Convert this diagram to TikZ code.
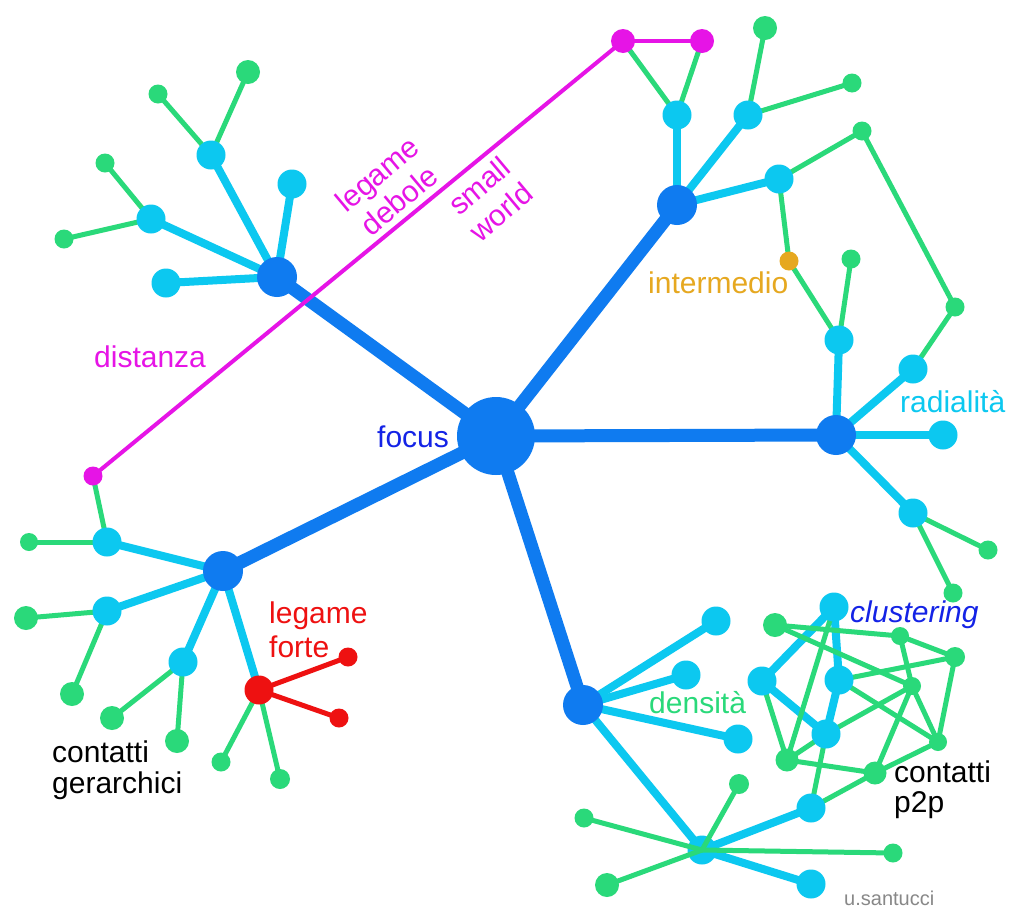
\documentclass[tikz,border=0pt]{standalone}
\usepackage{fontspec}
\setmainfont{Liberation Sans}
\pgfdeclarelayer{bg}
\pgfdeclarelayer{edges}
\pgfdeclarelayer{top}
\pgfsetlayers{bg,edges,main,top}
\definecolor{dblue}{RGB}{15,123,240}
\definecolor{lblue}{RGB}{12,200,240}
\definecolor{cgreen}{RGB}{42,217,122}
\definecolor{cmag}{RGB}{230,20,230}
\definecolor{cred}{RGB}{238,17,17}
\definecolor{corange}{RGB}{230,168,32}
\definecolor{tblue}{RGB}{20,35,230}
\definecolor{tgray}{RGB}{136,136,136}
\tikzset{
  fnode/.style={circle,fill=dblue,inner sep=0pt,minimum size=78pt},
  hubnode/.style={circle,fill=dblue,inner sep=0pt,minimum size=40pt},
  lbnode/.style={circle,fill=lblue,inner sep=0pt,minimum size=29pt},
  gnode/.style={circle,fill=cgreen,inner sep=0pt,minimum size=#1},
  gnode/.default=19pt,
  mnode/.style={circle,fill=cmag,inner sep=0pt,minimum size=#1},
  mnode/.default=24pt,
  rnode/.style={circle,fill=cred,inner sep=0pt,minimum size=#1},
  rnode/.default=19pt,
  onode/.style={circle,fill=corange,inner sep=0pt,minimum size=19pt},
  thickedge/.style={line width=13pt,dblue},
  lbedge/.style={line width=8pt,lblue},
  gedge/.style={line width=5pt,cgreen},
  medge/.style={line width=4pt,cmag},
  redge/.style={line width=5pt,cred},
  lbl/.style={inner sep=0pt,anchor=base west,font=\fontsize{30}{34}\selectfont},
  rlbl/.style={inner sep=0pt,align=center,rotate=40,font=\fontsize{30}{34}\selectfont,text=cmag},
}
\begin{document}
\begin{tikzpicture}[x=1pt,y=-1pt]
\useasboundingbox (0,0) rectangle (1024,919);
\begin{pgfonlayer}{bg}
\fill[white] (0,0) rectangle (1024,919);
\end{pgfonlayer}

% focus and hubs
\node[fnode] (F) at (496,436) {};
\node[hubnode] (hNW) at (277,277) {};
\node[hubnode] (hNE) at (677,205) {};
\node[hubnode] (hE) at (836,435) {};
\node[hubnode] (hS) at (583,705) {};
\node[hubnode] (hSW) at (223,571) {};

% NW branch
\node[lbnode] (nw1) at (211,155) {};
\node[lbnode] (nw2) at (292,184) {};
\node[lbnode] (nw3) at (151,219) {};
\node[lbnode] (nw4) at (166,283) {};
\node[gnode=24pt] (nw1a) at (248,72) {};
\node[gnode] (nw1b) at (158,94) {};
\node[gnode] (nw3a) at (105,163) {};
\node[gnode] (nw3b) at (64,239) {};

% NE branch
\node[mnode] (m1) at (623,41) {};
\node[mnode] (m2) at (702,41) {};
\node[lbnode] (ne1) at (677,115) {};
\node[lbnode] (ne2) at (748,115) {};
\node[lbnode] (ne3) at (779,179) {};
\node[gnode=24pt] (ne2a) at (765,28) {};
\node[gnode] (ne2b) at (852,83) {};
\node[gnode] (ne3a) at (862,131) {};
\node[onode] (o) at (789,261) {};

% E branch
\node[lbnode] (e1) at (839,340) {};
\node[lbnode] (e2) at (913,369) {};
\node[lbnode] (e3) at (943,435) {};
\node[lbnode] (e4) at (913,513) {};
\node[gnode] (e1a) at (851,259) {};
\node[gnode] (e2a) at (955,307) {};
\node[gnode] (e4a) at (988,550) {};
\node[gnode] (e4b) at (953,593) {};

% SW branch
\node[mnode=19pt] (m3) at (93,476) {};
\node[lbnode] (sw1) at (107,542) {};
\node[lbnode] (sw2) at (107,611) {};
\node[lbnode] (sw3) at (183,662) {};
\node[gnode=18pt] (sw1a) at (29,542) {};
\node[gnode=24pt] (sw2a) at (26,618) {};
\node[gnode=24pt] (sw2b) at (72,694) {};
\node[gnode=24pt] (sw3a) at (112,718) {};
\node[gnode=24pt] (sw3b) at (177,741) {};
\node[rnode=29pt] (R) at (259,690) {};
\node[rnode] (r1) at (348,657) {};
\node[rnode] (r2) at (339,718) {};
\node[gnode] (Ra) at (221,762) {};
\node[gnode=20pt] (Rb) at (280,779) {};

% S branch
\node[lbnode] (s1) at (716,621) {};
\node[lbnode] (s2) at (686,675) {};
\node[lbnode] (s3) at (738,739) {};
\node[lbnode] (H) at (702,850) {};
\node[lbnode] (s4) at (811,884) {};
\node[lbnode] (E) at (811,808) {};
\node[gnode=20pt] (Ha) at (739,784) {};
\node[gnode] (Hb) at (584,818) {};
\node[gnode=24pt] (Hc) at (607,885) {};
\node[gnode] (Hd) at (893,853) {};

% cluster
\node[lbnode] (A) at (834,607) {};
\node[lbnode] (B) at (762,681) {};
\node[lbnode] (C) at (839,680) {};
\node[lbnode] (D) at (826,734) {};
\node[gnode=24pt] (g1) at (775,625) {};
\node[gnode=18pt] (g2) at (900,636) {};
\node[gnode=20pt] (g3) at (955,657) {};
\node[gnode=18pt] (g4) at (912,686) {};
\node[gnode=18pt] (g5) at (938,742) {};
\node[gnode=23pt] (g6) at (787,760) {};
\node[gnode=23pt] (g7) at (875,773) {};

\begin{pgfonlayer}{edges}
% thick focus edges
\foreach \h in {hNW,hNE,hE,hS,hSW} \draw[thickedge] (F.center) -- (\h.center);
% NW
\foreach \n in {nw1,nw2,nw3,nw4} \draw[lbedge] (hNW.center) -- (\n.center);
\draw[gedge] (nw1.center) -- (nw1a.center);
\draw[gedge] (nw1.center) -- (nw1b.center);
\draw[gedge] (nw3.center) -- (nw3a.center);
\draw[gedge] (nw3.center) -- (nw3b.center);
% NE
\foreach \n in {ne1,ne2,ne3} \draw[lbedge] (hNE.center) -- (\n.center);
\draw[gedge] (ne1.center) -- (m1.center);
\draw[gedge] (ne1.center) -- (m2.center);
\draw[medge] (m1.center) -- (m2.center);
\draw[gedge] (ne2.center) -- (ne2a.center);
\draw[gedge] (ne2.center) -- (ne2b.center);
\draw[gedge] (ne3.center) -- (ne3a.center);
\draw[gedge] (ne3a.center) -- (e2a.center);
\draw[gedge] (e2a.center) -- (e2.center);
\draw[gedge] (ne3.center) -- (o.center);
\draw[gedge] (o.center) -- (e1.center);
\draw[gedge] (e1a.center) -- (e1.center);
% E
\foreach \n in {e1,e2,e3,e4} \draw[lbedge] (hE.center) -- (\n.center);
\draw[gedge] (e4.center) -- (e4a.center);
\draw[gedge] (e4.center) -- (e4b.center);
% SW
\foreach \n in {sw1,sw2,sw3,R} \draw[lbedge] (hSW.center) -- (\n.center);
\draw[gedge] (m3.center) -- (sw1.center);
\draw[gedge] (sw1.center) -- (sw1a.center);
\draw[gedge] (sw2.center) -- (sw2a.center);
\draw[gedge] (sw2.center) -- (sw2b.center);
\draw[gedge] (sw3.center) -- (sw3a.center);
\draw[gedge] (sw3.center) -- (sw3b.center);
\draw[redge] (R.center) -- (r1.center);
\draw[redge] (R.center) -- (r2.center);
\draw[gedge] (R.center) -- (Ra.center);
\draw[gedge] (R.center) -- (Rb.center);
% S
\foreach \n in {s1,s2,s3,H} \draw[lbedge] (hS.center) -- (\n.center);
\draw[lbedge] (H.center) -- (s4.center);
\draw[lbedge] (H.center) -- (E.center);
% cluster
\draw[lbedge] (A.center) -- (B.center);
\draw[lbedge] (A.center) -- (C.center);
\draw[lbedge] (B.center) -- (D.center);
\draw[lbedge] (C.center) -- (D.center);
\draw[gedge] (A.center) -- (g6.center);
\draw[gedge] (g1.center) -- (g2.center);
\draw[gedge] (g1.center) -- (g4.center);
\draw[gedge] (g2.center) -- (g3.center);
\draw[gedge] (g2.center) -- (g4.center);
\draw[gedge] (g3.center) -- (C.center);
\draw[gedge] (g3.center) -- (g5.center);
\draw[gedge] (C.center) -- (g5.center);
\draw[gedge] (g4.center) -- (g5.center);
\draw[gedge] (g4.center) -- (D.center);
\draw[gedge] (g4.center) -- (g7.center);
\draw[gedge] (B.center) -- (g6.center);
\draw[gedge] (g6.center) -- (D.center);
\draw[gedge] (g6.center) -- (g7.center);
\draw[gedge] (g7.center) -- (g5.center);
\draw[gedge] (D.center) -- (E.center);
\draw[gedge] (E.center) -- (g7.center);
\end{pgfonlayer}

\begin{pgfonlayer}{top}
\draw[medge] (m3.center) -- (m1.center);
\foreach \n in {Ha,Hb,Hc,Hd} \draw[gedge] (H.center) -- (\n.center);
\end{pgfonlayer}

% labels
\node[lbl,text=tblue] (tfocus) at (377,447) {focus};
\node[lbl,text=cmag] (tdist) at (94,367) {distanza};
\node[rlbl] (tdebole) at (388,187) {legame\\debole};
\node[rlbl] (tsmall) at (490,199) {small\\world};
\node[lbl,text=corange] (tinter) at (648,293) {intermedio};
\node[lbl,text=lblue] (trad) at (900,412) {radialità};
\node[lbl,text=cgreen] (tdens) at (649,713) {densità};
\node[lbl,text=tblue,font=\fontsize{30}{34}\selectfont\itshape] (tclus) at (850,622) {clustering};
\node[lbl,text=cred] (tforte1) at (269,623) {legame};
\node[lbl,text=cred] (tforte2) at (269,657) {forte};
\node[lbl] (tger1) at (52,762) {contatti};
\node[lbl] (tger2) at (52,793) {gerarchici};
\node[lbl] (tp2p1) at (894,782) {contatti};
\node[lbl] (tp2p2) at (894,812) {p2p};
\node[lbl,text=tgray,font=\fontsize{20}{24}\selectfont] (tauth) at (844,905) {u.santucci};
\end{tikzpicture}
\end{document}
